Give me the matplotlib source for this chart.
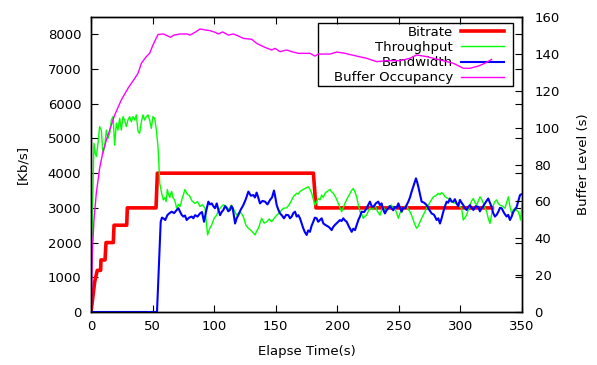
import matplotlib
matplotlib.use("Agg")
import matplotlib.pyplot as plt
from matplotlib.patches import Rectangle

# ---------------- data (time [s], value) ----------------
bitrate = [(0, 0), (3, 870), (5.1, 1200), (7.8, 1200), (8.1, 1500), (11.4, 1500), (12.2, 2000),
           (18.1, 2000), (18.7, 2500), (29, 2500), (29.5, 3000), (52.8, 3000), (53.9, 4000),
           (180.6, 4000), (182.7, 3000), (326, 3000)]

throughput = [
    (0, 2000), (0.8, 2270), (2.4, 4860), (3.5, 4570), (4.3, 4480), (5.7, 4860), (7.0, 5340),
    (8.4, 5240), (9.7, 4570), (11.1, 4760), (12.5, 5240), (13.8, 5000), (15.2, 5150),
    (16.5, 5530), (17.9, 5630), (19.2, 4810), (20.6, 5440), (21.9, 5240), (23.3, 5580),
    (24.6, 5240), (26, 5630), (27.3, 5530), (28.7, 5340), (30, 5530), (31.4, 5630),
    (32.7, 5480), (34.1, 5630), (35.5, 5530), (36.8, 5680), (38.2, 5200), (39.5, 5150),
    (40.9, 5480), (42.2, 5680), (43.6, 5530), (44.9, 5630), (46.3, 5680), (47.6, 5530),
    (49, 5290), (50.3, 5630), (51.7, 5580), (53.1, 5240), (54.4, 4760), (55, 4380), (55.8, 3710),
    (57.4, 3420), (58.7, 3230), (60, 3300), (61, 3180), (62, 3530), (63, 3380), (64, 3300),
    (64.8, 3420), (65.5, 3470), (66.5, 3300), (67.5, 3250), (68.5, 3150), (69.6, 2990),
    (71, 3100), (72.3, 3040), (74.3, 3300), (76.3, 3530), (78, 3400), (80, 3350), (82, 3200),
    (84.5, 3130), (86.5, 3180), (88.5, 3040), (90.5, 3090), (92.6, 2990), (93.6, 2600),
    (94.7, 2220), (96.3, 2400), (98, 2510), (100, 2700), (102, 2790), (103.4, 2930),
    (104.8, 2990), (107.4, 3090), (110, 3040), (112, 2950), (114, 3080), (116, 2950),
    (118.3, 2790), (121, 2900), (123.7, 2750), (125.8, 2500), (127.8, 2410), (130.5, 2330),
    (133.2, 2220), (134.5, 2330), (135.9, 2410), (137.2, 2550), (138.6, 2700), (140.6, 2560),
    (142.7, 2600), (144.7, 2680), (146.7, 2600), (148.7, 2700), (150.8, 2790), (153.5, 2880),
    (156.2, 2990), (158.9, 3000), (161.6, 3130), (164.3, 3320), (167, 3420), (168.3, 3400),
    (169.7, 3470), (171.7, 3520), (173.8, 3560), (176.5, 3610), (177.8, 3540), (179.2, 3420),
    (181.9, 3080), (183.2, 3180), (184.6, 3270), (186, 3230), (187.3, 3370), (188.6, 3300),
    (190, 3420), (192, 3480), (194.1, 3530), (195.4, 3460), (196.8, 3420), (198.8, 3300),
    (200.8, 3130), (202.1, 3020), (203.5, 2890), (204.8, 3000), (206.2, 3130), (208.2, 3280),
    (210.3, 3420), (211.6, 3500), (213, 3560), (214.3, 3460), (215.7, 3320), (217, 3100),
    (218.4, 2890), (219.8, 2820), (221.1, 2700), (222.4, 2760), (223.8, 2790), (225.1, 2900),
    (226.5, 2990), (228.5, 2950), (230.6, 3080), (232.6, 2900), (234.7, 2790), (236, 2950),
    (237.4, 3030), (238.7, 2900), (240.1, 2940), (242.1, 3050), (244.1, 3080), (245.4, 2950),
    (246.8, 2990), (248.2, 2850), (249.6, 2700), (250.9, 2850), (252.3, 2940), (254.3, 3000),
    (256.3, 3080), (257.6, 2960), (259, 2890), (260.4, 2780), (261.7, 2650), (263, 2520),
    (264.4, 2410), (265.8, 2480), (267.2, 2600), (269.2, 2750), (271.2, 2890), (272.5, 3000),
    (273.9, 3080), (276, 3200), (278, 3320), (280, 3350), (282, 3420), (283.3, 3380),
    (284.7, 3440), (286.1, 3400), (287.5, 3320), (289.5, 3280), (291.5, 3230), (294.2, 3150),
    (296.9, 3130), (299, 3050), (301, 2990), (302.3, 2650), (305, 2790), (306.4, 2950),
    (307.8, 3080), (309.1, 3200), (310.5, 3270), (311.8, 3150), (313.2, 3080), (314.5, 3200),
    (315.9, 3320), (317.2, 3250), (318.6, 3130), (320, 3000), (321.3, 2890), (322.6, 2700),
    (324, 2550), (325.3, 2800), (326.7, 3080), (328, 3180), (329.4, 3230), (330.7, 3130),
    (332.1, 3080), (334.1, 3050), (336.2, 2990), (337.5, 3150), (338.9, 3320), (340.2, 3050),
    (341.6, 2840), (343, 2950), (344.3, 2990), (345.6, 2930), (347, 2890), (348, 2780),
    (348.9, 2650), (350, 3100)]

bandwidth = [
    (0, 0), (53.6, 0), (56.6, 2600), (57.6, 2720), (58.7, 2700), (60.3, 2650), (62, 2790),
    (63.8, 2850), (65.5, 2890), (67.5, 2850), (69.6, 2940), (71, 2990), (72.3, 2890),
    (73.6, 2800), (75, 2750), (76.3, 2780), (77.7, 2650), (79.7, 2720), (81.8, 2750),
    (83.1, 2700), (84.5, 2790), (86.5, 2750), (88.5, 2840), (90.1, 2880), (91.8, 2600),
    (93.4, 2890), (95.3, 3180), (96.6, 3100), (98, 3130), (99.3, 3050), (100.7, 2990),
    (102.1, 3130), (103.4, 2950), (104.8, 2790), (106.1, 2880), (107.5, 2940), (108.8, 3050),
    (110.2, 2990), (111.5, 2900), (112.9, 2940), (114, 3050), (115.1, 2990), (117, 2550),
    (118.3, 2700), (119.6, 2790), (121.6, 2950), (123.7, 3080), (125.7, 3250), (127.8, 3470),
    (129.8, 3350), (131.8, 3370), (133.1, 3300), (134.5, 3440), (135.8, 3300), (137.2, 3130),
    (139.2, 3200), (141.3, 3180), (143.3, 3100), (145.4, 3230), (147, 3300), (148.6, 3500),
    (149.7, 3300), (150.8, 3080), (152.1, 2950), (153.5, 2840), (155.1, 2780), (156.7, 2700),
    (158.5, 2800), (160.3, 2790), (161.6, 2700), (163, 2750), (164.3, 2850), (165.7, 2890),
    (167, 2750), (168.4, 2790), (169.7, 2700), (171, 2560), (172.4, 2410), (173.7, 2300),
    (175.1, 2220), (176.4, 2350), (177.8, 2310), (179.1, 2480), (180.5, 2600), (181.8, 2720),
    (183.2, 2700), (184.5, 2600), (185.9, 2650), (187.3, 2700), (188.7, 2550), (190.7, 2500),
    (192.7, 2460), (194, 2420), (195.4, 2360), (196.7, 2450), (198.1, 2510), (200.1, 2580),
    (202.2, 2650), (203.5, 2620), (204.9, 2700), (206.2, 2640), (207.6, 2600), (209.6, 2450),
    (211.7, 2310), (213, 2400), (214.4, 2360), (215.7, 2500), (217.1, 2650), (218.4, 2750),
    (219.8, 2890), (221.8, 2880), (223.8, 2990), (225.1, 3080), (226.5, 3180), (227.9, 3050),
    (229.3, 3030), (231.3, 3130), (233.3, 3180), (234.6, 3080), (236, 3130), (237.3, 2950),
    (238.7, 2840), (240, 2930), (241.4, 2990), (242.7, 3050), (244.1, 2990), (245.4, 2930),
    (246.8, 3030), (248.2, 3000), (249.6, 3130), (250.9, 3000), (252.3, 2890), (253.6, 3000),
    (255, 2990), (256.3, 3080), (257.7, 3180), (259, 3300), (260.4, 3470), (262.1, 3650),
    (263.9, 3850), (264.8, 3750), (265.8, 3610), (267.1, 3400), (268.5, 3180), (270.5, 3150),
    (272.6, 3080), (274.6, 2950), (276.6, 2840), (278.6, 2800), (280.7, 2650), (282, 2700),
    (283.4, 2550), (284.7, 2700), (286.1, 2890), (287.5, 3050), (288.8, 3180), (290.1, 3150),
    (291.5, 3270), (292.8, 3180), (294.2, 3180), (295.5, 3250), (296.9, 3130), (298.2, 3050),
    (299.6, 3230), (300.9, 3150), (302.3, 3080), (303.6, 3000), (305, 2940), (306.4, 3030),
    (307.8, 3080), (309.1, 3000), (310.5, 2940), (312.5, 3050), (314.5, 3030), (315.8, 2900),
    (317.2, 2990), (318.5, 3050), (319.9, 3130), (321.2, 3200), (322.6, 3270), (323.9, 3150),
    (325.3, 3030), (326.6, 2850), (328, 2750), (329.4, 2800), (330.8, 2890), (332.1, 3000),
    (333.5, 2990), (335.5, 2850), (337.5, 2750), (338.8, 2800), (340.2, 2650), (341.6, 2750),
    (343, 2890), (344.3, 2950), (345.7, 3030), (347, 3200), (348.4, 3370), (350, 3400)]

buffer_occ = [
    (0, 0), (0.3, 1), (1.1, 31.8), (2.4, 49.9), (4.3, 64.4), (7.0, 77.9), (9.7, 86.9),
    (12.5, 93.3), (15.2, 98.7), (19.2, 106.8), (24.6, 115), (30, 121.3), (35.5, 126.7),
    (38.2, 129.5), (40.9, 134.9), (44.9, 138.5), (47.6, 140.3), (50.3, 144.8), (54.4, 150.5),
    (58.7, 150.8), (64.7, 149), (66.9, 150.1), (72.3, 150.8), (77.7, 150.8), (80.4, 150.2),
    (84.5, 151.7), (88.5, 153.5), (92.6, 153), (96.6, 152.6), (100.7, 151.7), (103.4, 150.8),
    (106.9, 151.9), (111.5, 150.2), (115.6, 150.8), (119.6, 149.7), (123.7, 148.4),
    (130.5, 147.9), (134.5, 145.7), (141.3, 143.5), (146.7, 142.1), (149.4, 143),
    (153.5, 141.2), (158.9, 142.1), (163, 141.2), (168.4, 140.3), (177.8, 140.3),
    (181.9, 138.8), (184.6, 139.9), (194.1, 139.9), (199.5, 141), (206.2, 140.3),
    (215.7, 138.8), (223.8, 137.6), (232, 135.8), (240.1, 136.3), (250.9, 136.3),
    (259, 137.6), (264.4, 139.4), (272.6, 138.5), (283.4, 136.7), (294.2, 134.9),
    (302.3, 132.2), (307.8, 132.2), (314.5, 133.4), (319.9, 134.9), (325.3, 137)]

series_labels = ['Bitrate', 'Throughput', 'Bandwidth', 'Buffer Occupancy']
x_ticks = [0, 50, 100, 150, 200, 250, 300, 350]
y_ticks = [0, 1000, 2000, 3000, 4000, 5000, 6000, 7000, 8000]
y2_ticks = [0, 20, 40, 60, 80, 100, 120, 140, 160]

# ---------------- plot ----------------
FS = 9.5
plt.rcParams['font.family'] = ['DejaVu Sans']
plt.rcParams['font.size'] = FS

fig = plt.figure(figsize=(5.97, 3.65), dpi=100)
ax = fig.add_axes([91 / 597, 53 / 365, 431 / 597, 295 / 365])

bt, bv = zip(*bitrate)
tt, tv = zip(*throughput)
wt, wv = zip(*bandwidth)
ot, ov = zip(*buffer_occ)

l1, = ax.plot(bt, bv, color='#ff0000', lw=2.6, label=series_labels[0], zorder=2)
l2, = ax.plot(tt, tv, color='#00ff00', lw=1.0, label=series_labels[1], zorder=3)
l3, = ax.plot(wt, wv, color='#0000ff', lw=1.5, label=series_labels[2], zorder=4)

ax.set_xlim(0, 350)
ax.set_ylim(0, 8500)
ax.set_xticks(x_ticks)
ax.set_yticks(y_ticks)

ax2 = ax.twinx()
l4, = ax2.plot(ot, ov, color='#ff00ff', lw=1.0, label=series_labels[3])
ax2.set_ylim(0, 160)
ax2.set_yticks(y2_ticks)

ax.tick_params(direction='in', length=5, width=0.8, top=True, right=True,
               labelright=False, pad=7, labelsize=FS)
ax.tick_params(axis='x', pad=6)
ax2.tick_params(direction='in', length=5, width=0.8, pad=9, labelsize=FS)

for a in (ax, ax2):
    for s in a.spines.values():
        s.set_linewidth(1.0)
        s.set_color('black')

ax.set_xlabel('Elapse Time(s)', fontsize=FS)
ax.xaxis.set_label_coords(0.5, (312 - 352) / 295)
ax.xaxis.label.set_va('center')
ax.set_ylabel('[Kb/s]', fontsize=FS)
ax.yaxis.set_label_coords((23 - 91) / 431, 0.5)
ax.yaxis.label.set_va('center')
ax2.set_ylabel('Buffer Level (s)', fontsize=FS)
ax2.yaxis.set_label_coords((583 - 91) / 431, 0.5)
ax2.yaxis.label.set_va('center')

# legend (gnuplot style: right-aligned text, sample on the right, plain box)
leg = ax.legend(handles=[l1, l2, l3, l4], loc='upper right',
                bbox_to_anchor=((507 - 91) / 431, (312 - 23) / 295),
                markerfirst=False, frameon=False, handlelength=3.3, handletextpad=0.6,
                labelspacing=0.17, borderpad=0.2, borderaxespad=0, fontsize=FS)
for t in leg.get_texts():
    t.set_ha('right')
ax.add_patch(Rectangle(((318 - 91) / 431, (312 - 86) / 295), 195 / 431, 63 / 295,
                       transform=ax.transAxes, fill=False, edgecolor='black', lw=1.0,
                       zorder=5, clip_on=False))

fig.savefig('out.png', dpi=100)
